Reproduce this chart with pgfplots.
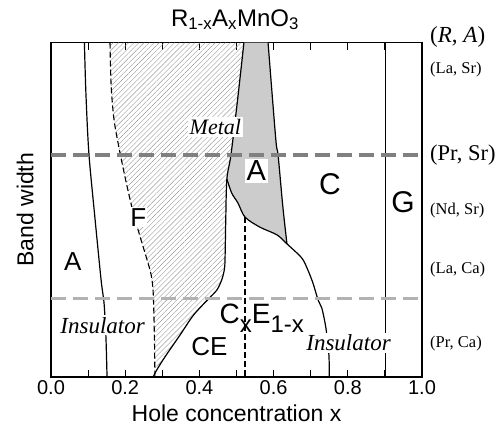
\documentclass[border=0pt]{standalone}
\usepackage{fontspec}
\setmainfont{Liberation Sans}
\newfontfamily\tnr{Liberation Serif}
\usepackage{pgfplots}
\pgfplotsset{compat=1.18}
\usetikzlibrary{patterns.meta}
\begin{document}
\begin{tikzpicture}
\begin{axis}[
  scale only axis, width=371pt, height=334.5pt,
  xmin=0, xmax=1, ymin=0, ymax=1,
  clip=false,
  axis line style={line width=1.4pt},
  xtick={0,0.2,0.4,0.6,0.8,1},
  xticklabels={0.0,0.2,0.4,0.6,0.8,1.0},
  minor xtick={0.1,0.3,0.5,0.7,0.9},
  ytick=\empty,
  xtick pos=both, xticklabel pos=lower,
  tick align=inside,
  major tick length=7pt, minor tick length=7pt,
  tick style={line width=1pt, black},
  xticklabel style={font=\fontsize{20}{20}\selectfont},
  xlabel={Hole concentration x},
  ylabel={Band width},
  xlabel style={at={(axis description cs:0.5,-0.1076)}, anchor=center, font=\fontsize{23}{23}\selectfont},
  ylabel style={at={(axis description cs:-0.070,0.5)}, anchor=center, font=\fontsize{23}{23}\selectfont},
  title={R\textsubscript{1-x}A\textsubscript{x}MnO\textsubscript{3}},
  title style={at={(axis description cs:0.496,1.031)}, anchor=base, font=\fontsize{24}{24}\selectfont},
]
% gray region (fill only): left boundary, lower boundary, right boundary reversed
\addplot[fill=gray!40, draw=none] coordinates {
 (0.520,1.000) (0.503,0.830) (0.485,0.664) (0.474,0.592)
 (0.480,0.570) (0.487,0.550) (0.504,0.520) (0.523,0.478) (0.540,0.462) (0.563,0.448) (0.585,0.438) (0.609,0.425) (0.636,0.398)
 (0.625,0.508) (0.612,0.664) (0.606,0.709) (0.585,1.000)};
% hatched region: dashed boundary downward, then metal-insulator boundary upward
\addplot[pattern={Lines[angle=45,distance=3.6pt,line width=0.4pt]}, pattern color=gray!80, draw=none] coordinates {
 (0.159,1.000) (0.162,0.873) (0.170,0.768) (0.186,0.670) (0.205,0.570) (0.222,0.490)
 (0.240,0.420) (0.259,0.350) (0.270,0.305) (0.275,0.260) (0.277,0.200) (0.279,0.100) (0.280,0.000)
 (0.275,0.000) (0.285,0.021) (0.307,0.060) (0.348,0.126) (0.384,0.185) (0.424,0.233)
 (0.447,0.260) (0.460,0.290) (0.467,0.320) (0.469,0.350) (0.471,0.470) (0.474,0.592)
 (0.485,0.664) (0.503,0.830) (0.520,1.000)};
% dashed F boundary
\addplot[smooth, line width=1.1pt, dash pattern=on 6pt off 3pt] coordinates {
 (0.159,1.000) (0.162,0.873) (0.170,0.768) (0.186,0.670) (0.205,0.570) (0.222,0.490)
 (0.240,0.420) (0.259,0.350) (0.270,0.305) (0.275,0.260) (0.277,0.200) (0.279,0.100) (0.280,0.000)};
% metal-insulator boundary
\addplot[smooth, line width=1.2pt] coordinates {
 (0.520,1.000) (0.503,0.830) (0.485,0.664) (0.474,0.592) (0.471,0.470) (0.469,0.350)
 (0.467,0.320) (0.460,0.290) (0.447,0.260) (0.424,0.233) (0.384,0.185) (0.348,0.126)
 (0.307,0.060) (0.285,0.021) (0.275,0.000)};
% A / F boundary
\addplot[smooth, line width=1.2pt] coordinates {
 (0.090,1.000) (0.094,0.850) (0.102,0.670) (0.118,0.480) (0.135,0.290) (0.143,0.220) (0.148,0.120) (0.151,0.000)};
% gray right boundary
\addplot[smooth, line width=1.2pt] coordinates {
 (0.585,1.000) (0.606,0.709) (0.612,0.664) (0.625,0.508) (0.636,0.398)};
% lower boundary of A, continuing down
\addplot[smooth, line width=1.2pt] coordinates {
 (0.474,0.592) (0.487,0.550) (0.504,0.520) (0.523,0.478) (0.563,0.448) (0.609,0.425)
 (0.636,0.398) (0.675,0.357) (0.690,0.326) (0.706,0.281) (0.720,0.230) (0.730,0.206)
 (0.741,0.146) (0.749,0.066) (0.750,0.000)};
% dashed vertical
\addplot[line width=1.1pt, dash pattern=on 6pt off 3pt] coordinates {(0.523,0.478) (0.523,0)};
% G boundary
\addplot[line width=1.2pt] coordinates {(0.901,0) (0.901,1)};
% band-width lines
\addplot[line width=4pt, color=black!50, dash pattern=on 15pt off 7pt] coordinates {(0,0.664) (1,0.664)};
\addplot[line width=3.2pt, color=black!30, dash pattern=on 15pt off 7pt] coordinates {(0,0.234) (1,0.234)};
% labels
\node[font=\fontsize{26}{26}\selectfont] at (axis cs:0.059,0.344) {A};
\node[fill=white, inner sep=1pt, font=\fontsize{26}{26}\selectfont] at (axis cs:0.235,0.478) {F};
\node[fill=white, inner sep=2pt, font=\tnr\itshape\fontsize{22}{22}\selectfont] at (axis cs:0.443,0.747) {Metal};
\node[fill=white, inner sep=2pt, font=\fontsize{29}{29}\selectfont] at (axis cs:0.553,0.616) {A};
\node[font=\fontsize{30}{30}\selectfont] at (axis cs:0.752,0.577) {C};
\node[font=\fontsize{30}{30}\selectfont] at (axis cs:0.949,0.523) {G};
\node[font=\fontsize{28}{28}\selectfont] at (axis cs:0.568,0.176) {C\raisebox{-0.3em}{\fontsize{24}{24}\selectfont x}E\raisebox{-0.3em}{\fontsize{24}{24}\selectfont 1-x}};
\node[font=\fontsize{26}{26}\selectfont] at (axis cs:0.427,0.090) {CE};
\node[fill=white, inner sep=2pt, font=\tnr\itshape\fontsize{23}{23}\selectfont] at (axis cs:0.139,0.155) {Insulator};
\node[fill=white, inner sep=2pt, font=\tnr\itshape\fontsize{23}{23}\selectfont] at (axis cs:0.802,0.102) {Insulator};
% right labels
\node[anchor=west, inner sep=0pt, font=\tnr\fontsize{23}{23}\selectfont] at (rel axis cs:1.0216,1.016) {(\textit{R}, \textit{A})};
\node[anchor=west, inner sep=0pt, font=\tnr\fontsize{16.5}{16.5}\selectfont] at (rel axis cs:1.0216,0.918) {(La, Sr)};
\node[anchor=west, inner sep=0pt, font=\tnr\fontsize{22.5}{22.5}\selectfont] at (rel axis cs:1.0216,0.664) {(Pr, Sr)};
\node[anchor=west, inner sep=0pt, font=\tnr\fontsize{16.5}{16.5}\selectfont] at (rel axis cs:1.0216,0.499) {(Nd, Sr)};
\node[anchor=west, inner sep=0pt, font=\tnr\fontsize{16.5}{16.5}\selectfont] at (rel axis cs:1.0216,0.320) {(La, Ca)};
\node[anchor=west, inner sep=0pt, font=\tnr\fontsize{16.5}{16.5}\selectfont] at (rel axis cs:1.0216,0.099) {(Pr, Ca)};
\coordinate (bbsw) at (rel axis cs:-0.1375,-0.1465);
\coordinate (bbne) at (rel axis cs:1.2156,1.1271);
\end{axis}
\pgfresetboundingbox
\path (bbsw) rectangle (bbne);
\end{tikzpicture}
\end{document}
